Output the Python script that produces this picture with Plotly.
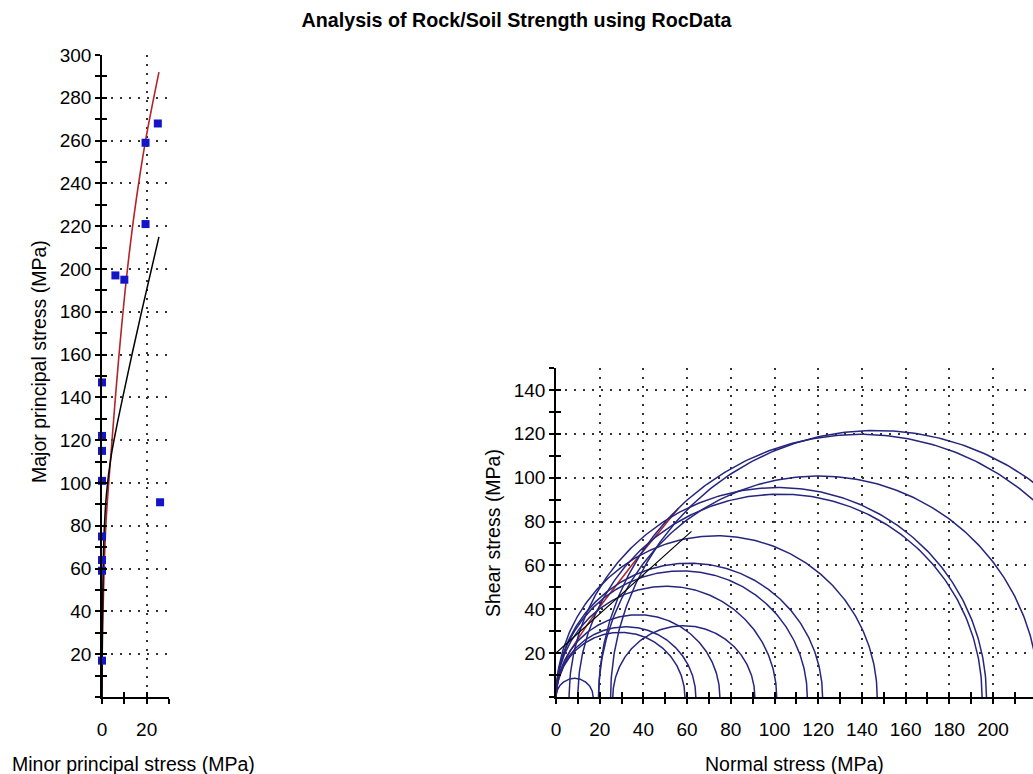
import numpy as np
import plotly.graph_objects as go

# ---------------- data ----------------
minor_stress = [0, 0, 0, 0, 0, 0, 0, 0, 6, 10, 19.5, 19.5, 25, 26]
major_stress = [17, 59, 64, 75, 101, 115, 122, 147, 197, 195, 221, 259, 268, 91]

# Hoek-Brown fit (red) in principal stress space
hb_s3 = [0, 0.1, 0.3, 0.7, 1.7, 3, 4.5, 6, 8.5, 11.4, 15, 19.5, 25.5]
hb_s1 = [0, 20, 33, 50, 80, 100, 120, 140, 170, 200, 230, 260, 292]
# second fit (black) in principal stress space
bk_s3 = [0, 0.15, 0.5, 1, 2, 4, 6.5, 9.3, 13, 17.7, 25.5]
bk_s1 = [0, 30, 60, 78, 95, 112, 126, 140, 158, 180, 215]

# envelopes in normal/shear stress space
hb_env_sn = [0, 1, 3, 6, 11, 20, 30, 37, 47, 56]
hb_env_tau = [0, 7, 13, 20, 28, 41, 54, 63, 75, 86]
bk_env_sn = [0, 62]
bk_env_tau = [20, 75.5]

left_y_labels = [20, 40, 60, 80, 100, 120, 140, 160, 180, 200, 220, 240, 260, 280, 300]
left_x_labels = [0, 20]
right_x_labels = [0, 20, 40, 60, 80, 100, 120, 140, 160, 180, 200]
right_y_labels = [20, 40, 60, 80, 100, 120, 140]

title_text = "Analysis of Rock/Soil Strength using RocData"
left_x_title = "Minor principal stress (MPa)"
left_y_title = "Major principal stress (MPa)"
right_x_title = "Normal stress (MPa)"
right_y_title = "Shear stress (MPa)"

# ---------------- layout geometry ----------------
W, H = 1033, 774
def fx(p):
    return p / W
def fy(p):
    return 1 - p / H

FONT = "Liberation Sans, Arial, sans-serif"
tick_font = dict(family=FONT, size=19, color="black")

fig = go.Figure()

# left plot: fits and test points
fig.add_trace(go.Scatter(x=hb_s3, y=hb_s1, mode="lines",
                         line=dict(color="#b3242a", width=1.6, shape="spline"),
                         xaxis="x", yaxis="y", showlegend=False, hoverinfo="skip"))
fig.add_trace(go.Scatter(x=bk_s3, y=bk_s1, mode="lines",
                         line=dict(color="black", width=1.5, shape="spline"),
                         xaxis="x", yaxis="y", showlegend=False, hoverinfo="skip"))
fig.add_trace(go.Scatter(x=minor_stress, y=major_stress, mode="markers",
                         marker=dict(symbol="square", size=8, color="#1414c8"),
                         cliponaxis=False, xaxis="x", yaxis="y", showlegend=False))

# right plot: Mohr circles built from the same test points
theta = np.linspace(0, np.pi, 241)
cx, cy = [], []
for s3, s1 in zip(minor_stress, major_stress):
    c = (s1 + s3) / 2.0
    r = (s1 - s3) / 2.0
    cx += list(c + r * np.cos(theta)) + [None]
    cy += list(r * np.sin(theta)) + [None]

fig.add_trace(go.Scatter(x=hb_env_sn, y=hb_env_tau, mode="lines",
                         line=dict(color="#b3242a", width=1.5, shape="spline"),
                         xaxis="x2", yaxis="y2", showlegend=False, hoverinfo="skip"))
fig.add_trace(go.Scatter(x=cx, y=cy, mode="lines",
                         line=dict(color="#26267e", width=1.5),
                         xaxis="x2", yaxis="y2", showlegend=False, hoverinfo="skip"))
fig.add_trace(go.Scatter(x=bk_env_sn, y=bk_env_tau, mode="lines",
                         line=dict(color="black", width=1.2),
                         xaxis="x2", yaxis="y2", showlegend=False, hoverinfo="skip"))

# dummy traces for overlay axes (inner half of the crossing ticks)
fig.add_trace(go.Scatter(x=[None], y=[None], xaxis="x3", yaxis="y3", showlegend=False))
fig.add_trace(go.Scatter(x=[None], y=[None], xaxis="x4", yaxis="y4", showlegend=False))


def main_axis(domain, rng, labels, minors, anchor, standoff):
    return dict(domain=domain, range=rng, autorange=False, anchor=anchor, automargin=False,
                tickmode="array", tickvals=labels, ticktext=[str(v) for v in labels],
                ticks="outside", ticklen=5, tickwidth=1.5, tickcolor="black",
                showline=True, linecolor="black", linewidth=1.5,
                showgrid=True, gridcolor="#333333", griddash="2px,7px", gridwidth=1.5,
                zeroline=False, tickfont=tick_font, ticklabelstandoff=standoff,
                minor=dict(tickmode="array", tickvals=minors, ticks="outside", ticklen=5,
                           tickwidth=1.5, tickcolor="black", showgrid=False),
                fixedrange=True)


def overlay_axis(rng, vals, overlaying, anchor):
    return dict(range=rng, autorange=False, overlaying=overlaying, anchor=anchor, automargin=False,
                tickmode="array", tickvals=vals, showticklabels=False,
                ticks="inside", ticklen=5, tickwidth=1.5, tickcolor="black",
                showgrid=False, zeroline=False, showline=False, fixedrange=True)


L_x_dom = [fx(102), fx(169)]
L_y_dom = [fy(697), fy(55)]
R_x_dom = [fx(556), 1.0]
R_y_dom = [fy(697), fy(368)]

L_xr = [0, 30]
L_yr = [0, 300]
R_xr = [0, 218.3]
R_yr = [0, 150]

L_x_all = [0, 10, 20, 30]
L_y_all = list(range(0, 301, 10))
R_x_all = list(range(0, 211, 10))
R_y_all = list(range(0, 151, 10))

layout = dict(
    width=W, height=H, margin=dict(l=0, r=0, t=0, b=0, autoexpand=False),
    paper_bgcolor="white", plot_bgcolor="white",
    showlegend=False,
    title=dict(text=title_text, x=0.5, xanchor="center", y=fy(20), yanchor="middle",
               font=dict(family=FONT, size=19.7, color="black", weight="bold")),
    xaxis=main_axis(L_x_dom, L_xr, left_x_labels,
                    [v for v in L_x_all if v not in left_x_labels], "y", 9),
    yaxis=main_axis(L_y_dom, L_yr, left_y_labels,
                    [v for v in L_y_all if v not in left_y_labels], "x", 0),
    xaxis2=main_axis(R_x_dom, R_xr, right_x_labels,
                     [v for v in R_x_all if v not in right_x_labels], "y2", 9),
    yaxis2=main_axis(R_y_dom, R_yr, right_y_labels,
                     [v for v in R_y_all if v not in right_y_labels], "x2", 0),
    xaxis3=overlay_axis(L_xr, L_x_all, "x", "y3"),
    yaxis3=overlay_axis(L_yr, L_y_all, "y", "x3"),
    xaxis4=overlay_axis(R_xr, R_x_all, "x2", "y4"),
    yaxis4=overlay_axis(R_yr, R_y_all, "y2", "x4"),
)
fig.update_layout(**layout)

ann_font = dict(family=FONT, size=19.5, color="black")
fig.add_annotation(text=left_x_title, x=fx(10), y=fy(764), xref="paper", yref="paper",
                   xanchor="left", yanchor="middle", showarrow=False, font=ann_font)
fig.add_annotation(text=right_x_title, x=fx(703), y=fy(764), xref="paper", yref="paper",
                   xanchor="left", yanchor="middle", showarrow=False, font=ann_font)
fig.add_annotation(text=left_y_title, x=fx(39), y=fy(362), xref="paper", yref="paper",
                   xanchor="center", yanchor="middle", textangle=-90, showarrow=False, font=ann_font)
fig.add_annotation(text=right_y_title, x=fx(493), y=fy(533), xref="paper", yref="paper",
                   xanchor="center", yanchor="middle", textangle=-90, showarrow=False, font=ann_font)

fig.write_html("out.html", config={"displayModeBar": False},
               post_script="document.body.style.margin='0';document.body.style.overflow='hidden';")
